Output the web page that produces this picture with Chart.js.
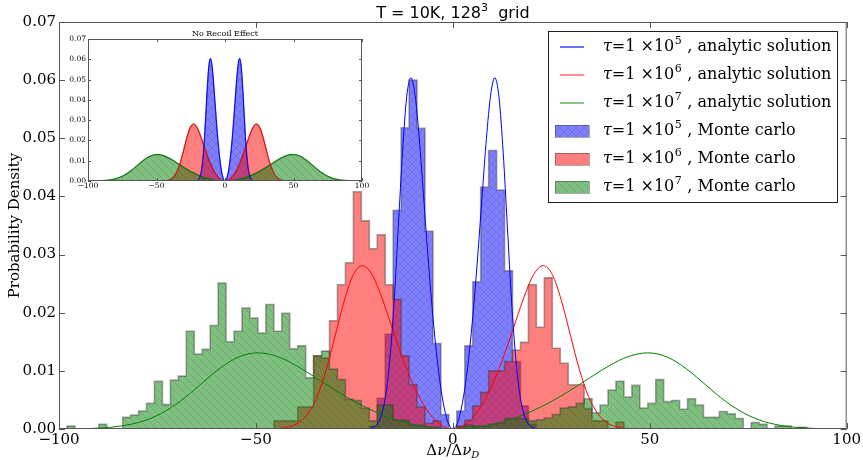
<!DOCTYPE html>
<html>
<head>
<meta charset="utf-8">
<script src="https://cdn.jsdelivr.net/npm/chart.js@4.4.0/dist/chart.umd.min.js"></script>
<style>
  html, body { margin: 0; padding: 0; background: #fff; }
  #wrap { position: relative; width: 863px; height: 460px; }
  #main { position: absolute; left: 0; top: 0; }
  #inset { position: absolute; left: 60px; top: 28px; }
</style>
</head>
<body>
<div id="wrap">
  <canvas id="main" width="863" height="460"></canvas>
  <canvas id="inset" width="312" height="168"></canvas>
</div>
<script>
// axis ticks
const xTicks = [-100, -50, 0, 50, 100];
const yTicks = [0, 0.01, 0.02, 0.03, 0.04, 0.05, 0.06, 0.07];

// histogram bins: 99 equal bins between -100 and 100
const binLo = -100, binHi = 100, nBins = 99;
const binEdges = [];
for (let k = 0; k <= nBins; k++) binEdges.push(binLo + k * (binHi - binLo) / nBins);

// Monte carlo histograms (first bin index + densities)
const blueStart = 39;
const blueHist = [.0005, .0053, .0163, .0376, .0518, .0600, .0517, .0340, .0147, .0025, 0,
  .0031, .0143, .0253, .0416, .0479, .0411, .0272, .0116, .0040, .0008];

const redStart = 27;
const redHist = [.0014, .0014, .0014, .0038, .0038, .0126, .0122, .0186, .0248, .0286, .0408,
  .0358, .0310, .0334, .0248, .0223, .0126, .0076, .0038, .0010, .0014, 0, 0, .0005, .0015,
  .0040, .0063, .0100, .0100, .0116, .0136, .0149, .0248, .0175, .0260, .0139, .0113, .0076,
  .0076, .0035, .0014, .0014, 0, .0012];

const greenStart = 1;
const greenHist = [.0005, 0, 0, 0, .0008, 0, 0, .0020, .0024, .0031, .0044, .0082, .0042,
  .0084, .0091, .0168, .0129, .0137, .0178, .0251, .0150, .0168, .0208, .0191, .0165, .0214,
  .0168, .0199, .0138, .0143, .0088, .0126, .0134, .0103, .0085, .0051, .0049, .0036, .0014,
  .0041, .0041, .0015, .0015, .0007, .0007, .0003, .0003, 0, 0, .0003, .0007, .0005, .0005,
  .0008, .0010, .0018, .0018, .0018, .0014, .0016, .0019, .0025, .0036, .0038, .0044, .0052,
  .0028, .0041, .0067, .0082, .0055, .0075, .0036, .0044, .0085, .0047, .0049, .0034, .0052,
  .0041, .0020, .0020, .0030, .0026, .0018, 0, .0011, .0008, 0, .0005, .0005, 0, .0003];

// analytic solutions
const blueCurveX = [-23.43, -22.37, -21.3, -20.24, -19.17, -18.11, -17.04, -15.98, -14.91, -13.85,
  -12.78, -11.72, -10.65, -9.59, -8.52, -7.46, -6.39, -5.33, -4.26, -3.2, -2.13, -1.07, 0,
  1.07, 2.13, 3.2, 4.26, 5.33, 6.39, 7.46, 8.52, 9.59, 10.65, 11.72, 12.78, 13.85, 14.91,
  15.98, 17.04, 18.11, 19.17, 20.24, 21.3, 22.37, 23.43];
const blueCurveY = [0, .00002, .00008, .00028, .00089, .00244, .00582, .01212, .02199, .03472,
  .04761, .05708, .0604, .05741, .04992, .04029, .03039, .02135, .01372, .00773, .00344, .00086, 0,
  .00086, .00344, .00773, .01372, .02135, .03039, .04029, .04992, .05741, .0604, .05708, .04761,
  .03472, .02199, .01212, .00582, .00244, .00089, .00028, .00008, .00002, 0];

const redCurveX = [-50.49, -48.2, -45.9, -43.61, -41.31, -39.02, -36.72, -34.43, -32.13, -29.84,
  -27.54, -25.25, -22.95, -20.66, -18.36, -16.07, -13.77, -11.48, -9.18, -6.89, -4.59, -2.3, 0,
  2.3, 4.59, 6.89, 9.18, 11.48, 13.77, 16.07, 18.36, 20.66, 22.95, 25.25, 27.54, 29.84, 32.13,
  34.43, 36.72, 39.02, 41.31, 43.61, 45.9, 48.2, 50.49];
const redCurveY = [0, .00001, .00004, .00013, .00042, .00114, .00271, .00564, .01023, .01615,
  .02215, .02656, .0281, .02671, .02322, .01875, .01414, .00993, .00638, .0036, .0016, .0004, 0,
  .0004, .0016, .0036, .00638, .00993, .01414, .01875, .02322, .02671, .0281, .02656, .02215,
  .01615, .01023, .00564, .00271, .00114, .00042, .00013, .00004, .00001, 0];

const greenCurveX = [-98.9, -93.96, -89.01, -84.07, -79.12, -74.18, -69.23, -64.29, -59.34, -54.4,
  -49.45, -44.51, -39.56, -34.62, -29.67, -24.73, -19.78, -14.84, -9.89, -4.95, 0,
  4.95, 9.89, 14.84, 19.78, 24.73, 29.67, 34.62, 39.56, 44.51, 49.45, 54.4, 59.34, 64.29,
  69.23, 74.18, 79.12, 84.07, 89.01, 93.96, 98.9];
const greenCurveY = [.00002, .00006, .00019, .00053, .00126, .00263, .00477, .00753, .01033, .01238,
  .0131, .01245, .01083, .00874, .00659, .00463, .00298, .00168, .00075, .00019, 0,
  .00019, .00075, .00168, .00298, .00463, .00659, .00874, .01083, .01245, .0131, .01238, .01033,
  .00753, .00477, .00263, .00126, .00053, .00019, .00006, .00002];

const tauExp = ['5', '6', '7'];
const lineLabel = 'analytic solution';
const histLabel = 'Monte carlo';

// ---------------------------------------------------------------
const blueC = '#0000ff', redC = '#ff0000', greenC = '#008000';
const edgeC = 'rgba(50,50,50,0.42)';

function hatch(fill, cross) {
  const c = document.createElement('canvas');
  c.width = 8; c.height = 8;
  const g = c.getContext('2d');
  g.fillStyle = fill;
  g.fillRect(0, 0, 8, 8);
  g.strokeStyle = 'rgba(0,0,0,0.11)';
  g.lineWidth = 1;
  g.beginPath();
  g.moveTo(-1, -1); g.lineTo(9, 9);
  g.moveTo(-1, 7); g.lineTo(1, 9);
  g.moveTo(7, -1); g.lineTo(9, 1);
  if (cross) {
    g.moveTo(-1, 9); g.lineTo(9, -1);
    g.moveTo(-1, 1); g.lineTo(1, -1);
    g.moveTo(7, 9); g.lineTo(9, 7);
  }
  g.stroke();
  return document.getElementById('main').getContext('2d').createPattern(c, 'repeat');
}
const blueFill = hatch('rgba(0,0,255,0.5)', true);
const redFill = 'rgba(255,0,0,0.5)';
const greenFill = hatch('rgba(0,128,0,0.5)', false);

function pts(xs, ys) {
  return xs.map((x, i) => ({ x: x, y: ys[i] }));
}
function histPts(start, vals) {
  const p = [{ x: binEdges[start], y: 0 }];
  vals.forEach((v, i) => p.push({ x: binEdges[start + i], y: v }));
  p.push({ x: binEdges[start + vals.length], y: 0 });
  return p;
}
function curveSet(xs, ys, col) {
  return { data: pts(xs, ys), borderColor: col, borderWidth: 1, fill: false,
    cubicInterpolationMode: 'monotone', pointRadius: 0 };
}
function histSet(data, fill, stepped, bw) {
  return { data: data, stepped: stepped, fill: 'origin', backgroundColor: fill,
    borderColor: edgeC, borderWidth: bw, pointRadius: 0,
    cubicInterpolationMode: 'monotone' };
}

function frameTicks(len) {
  return {
    id: 'frameTicks',
    afterDatasetsDraw(chart) {
      const { ctx, chartArea: a, scales } = chart;
      ctx.save();
      ctx.strokeStyle = '#555';
      ctx.lineWidth = 1;
      ctx.strokeRect(a.left + 0.5, a.top + 0.5, a.right - a.left - 1, a.bottom - a.top - 1);
      ctx.beginPath();
      scales.x.ticks.forEach(t => {
        const px = Math.round(scales.x.getPixelForValue(t.value)) + 0.5;
        ctx.moveTo(px, a.bottom); ctx.lineTo(px, a.bottom - len);
        ctx.moveTo(px, a.top); ctx.lineTo(px, a.top + len);
      });
      scales.y.ticks.forEach(t => {
        const py = Math.round(scales.y.getPixelForValue(t.value)) + 0.5;
        ctx.moveTo(a.left, py); ctx.lineTo(a.left + len, py);
        ctx.moveTo(a.right, py); ctx.lineTo(a.right - len, py);
      });
      ctx.stroke();
      ctx.restore();
    }
  };
}

function minusLabel(v) {
  return v < 0 ? '\u2212' + Math.abs(v) : String(v);
}

Chart.defaults.font.family = '"DejaVu Serif", serif';
Chart.defaults.color = '#000';

const serif = '"DejaVu Serif", serif';

const textPlugin = {
  id: 'texts',
  afterDraw(chart) {
    const { ctx, chartArea: a } = chart;
    const cx = (a.left + a.right) / 2;
    ctx.save();
    ctx.fillStyle = '#000';
    ctx.textBaseline = 'alphabetic';
    // title
    ctx.font = '16px "DejaVu Sans", sans-serif';
    const t1 = 'T = 10K, 128', t2 = '3', t3 = '  grid';
    const w1 = ctx.measureText(t1).width, w3 = ctx.measureText(t3).width;
    ctx.font = '11px "DejaVu Sans", sans-serif';
    const w2 = ctx.measureText(t2).width;
    let x = cx - (w1 + w2 + w3) / 2;
    ctx.font = '16px "DejaVu Sans", sans-serif';
    ctx.fillText(t1, x, 18); x += w1;
    ctx.font = '11px "DejaVu Sans", sans-serif';
    ctx.fillText(t2, x, 11); x += w2;
    ctx.font = '16px "DejaVu Sans", sans-serif';
    ctx.fillText(t3, x, 18);
    // x axis title: upright deltas, italic nu
    const parts = [['\u0394', ''], ['\u03bd', 'italic '], ['/\u0394', ''], ['\u03bd', 'italic ']];
    let wsum = 0;
    parts.forEach(p => { ctx.font = p[1] + '15px ' + serif; wsum += ctx.measureText(p[0]).width; });
    ctx.font = 'italic 10px ' + serif;
    const wd = ctx.measureText('D').width;
    x = cx - (wsum + wd) / 2;
    parts.forEach(p => {
      ctx.font = p[1] + '15px ' + serif;
      ctx.fillText(p[0], x, 455);
      x += ctx.measureText(p[0]).width;
    });
    ctx.font = 'italic 10px ' + serif;
    ctx.fillText('D', x, 458);

    // legend
    const bx = 548.5, by = 31.5, bw = 289, bh = 171;
    ctx.fillStyle = '#fff';
    ctx.fillRect(bx, by, bw, bh);
    ctx.strokeStyle = '#222';
    ctx.lineWidth = 1;
    ctx.strokeRect(bx, by, bw, bh);
    const rows = [47, 75, 103, 131, 159, 187];
    const lcols = ['rgba(0,0,255,0.75)', 'rgba(255,0,0,0.6)', 'rgba(0,128,0,0.6)'];
    const pfills = [blueFill, redFill, greenFill];
    for (let i = 0; i < 6; i++) {
      const y = rows[i];
      const j = i % 3;
      if (i < 3) {
        ctx.strokeStyle = lcols[j];
        ctx.lineWidth = 1.5;
        ctx.beginPath();
        ctx.moveTo(560, y); ctx.lineTo(584, y);
        ctx.stroke();
      } else {
        ctx.fillStyle = pfills[j];
        ctx.fillRect(555, y - 6, 34, 12);
        ctx.strokeStyle = edgeC;
        ctx.lineWidth = 1;
        ctx.strokeRect(555.5, y - 5.5, 34, 12);
      }
      ctx.fillStyle = '#000';
      ctx.textBaseline = 'middle';
      let tx = 603;
      ctx.font = 'italic 16px ' + serif;
      ctx.fillText('\u03c4', tx, y); tx += ctx.measureText('\u03c4').width;
      ctx.font = '16px ' + serif;
      ctx.fillText('=1 \u00d710', tx, y); tx += ctx.measureText('=1 \u00d710').width;
      ctx.font = '11px ' + serif;
      ctx.fillText(tauExp[j], tx + 0.5, y - 6); tx += ctx.measureText(tauExp[j]).width + 1;
      ctx.font = '16px ' + serif;
      ctx.fillText(' , ' + (i < 3 ? lineLabel : histLabel), tx, y);
    }
    ctx.restore();
  }
};

new Chart(document.getElementById('main'), {
  type: 'line',
  data: {
    datasets: [
      curveSet(blueCurveX, blueCurveY, blueC),
      curveSet(redCurveX, redCurveY, redC),
      curveSet(greenCurveX, greenCurveY, greenC),
      histSet(histPts(greenStart, greenHist), greenFill, true, 1.6),
      histSet(histPts(redStart, redHist), redFill, true, 1.6),
      histSet(histPts(blueStart, blueHist), blueFill, true, 1.6)
    ]
  },
  options: {
    responsive: false,
    animation: false,
    layout: { padding: { top: 22, right: 16, left: 0, bottom: 0 } },
    plugins: { legend: { display: false }, tooltip: { enabled: false } },
    scales: {
      x: {
        type: 'linear', min: -100, max: 100,
        afterBuildTicks: s => { s.ticks = xTicks.map(v => ({ value: v })); },
        ticks: { callback: minusLabel, font: { size: 15 }, padding: 2, maxRotation: 0 },
        grid: { display: false, drawTicks: false },
        border: { display: false },
        afterFit: s => { s.height = 31; }
      },
      y: {
        min: 0, max: 0.07,
        afterBuildTicks: s => { s.ticks = yTicks.map(v => ({ value: v })); },
        ticks: { callback: v => v.toFixed(2), font: { size: 15 }, padding: 3 },
        grid: { display: false, drawTicks: false },
        border: { display: false },
        title: { display: true, text: 'Probability Density', font: { size: 15 }, padding: { top: 6, bottom: 0 } },
        afterFit: s => { s.width = 59; }
      }
    }
  },
  plugins: [frameTicks(6), textPlugin]
});

// inset: no recoil effect
const insetPlugin = {
  id: 'insetBg',
  beforeDraw(chart) {
    const { ctx, chartArea: a } = chart;
    ctx.save();
    ctx.fillStyle = '#fff';
    ctx.fillRect(a.left, a.top, a.right - a.left, a.bottom - a.top);
    ctx.restore();
  },
  afterDraw(chart) {
    const { ctx, chartArea: a } = chart;
    ctx.save();
    ctx.fillStyle = '#000';
    ctx.font = '8px ' + serif;
    ctx.textAlign = 'center';
    ctx.textBaseline = 'alphabetic';
    ctx.fillText('No Recoil Effect', (a.left + a.right) / 2, a.top - 3);
    ctx.restore();
  }
};

new Chart(document.getElementById('inset'), {
  type: 'line',
  data: {
    datasets: [
      curveSet(blueCurveX, blueCurveY, blueC),
      curveSet(redCurveX, redCurveY, redC),
      curveSet(greenCurveX, greenCurveY, greenC),
      histSet(pts(greenCurveX, greenCurveY), greenFill, false, 1.5),
      histSet(pts(redCurveX, redCurveY), redFill, false, 1.5),
      histSet(pts(blueCurveX, blueCurveY), blueFill, false, 1.5)
    ]
  },
  options: {
    responsive: false,
    animation: false,
    layout: { padding: { top: 11, right: 10, left: 0, bottom: 0 } },
    plugins: { legend: { display: false }, tooltip: { enabled: false } },
    scales: {
      x: {
        type: 'linear', min: -100, max: 100,
        afterBuildTicks: s => { s.ticks = xTicks.map(v => ({ value: v })); },
        ticks: { callback: minusLabel, font: { size: 7.5 }, padding: 1, maxRotation: 0 },
        grid: { display: false, drawTicks: false },
        border: { display: false },
        afterFit: s => { s.height = 15; }
      },
      y: {
        min: 0, max: 0.07,
        afterBuildTicks: s => { s.ticks = yTicks.map(v => ({ value: v })); },
        ticks: { callback: v => v.toFixed(2), font: { size: 7.5 }, padding: 2 },
        grid: { display: false, drawTicks: false },
        border: { display: false },
        afterFit: s => { s.width = 28; }
      }
    }
  },
  plugins: [insetPlugin, frameTicks(3)]
});
</script>
</body>
</html>
